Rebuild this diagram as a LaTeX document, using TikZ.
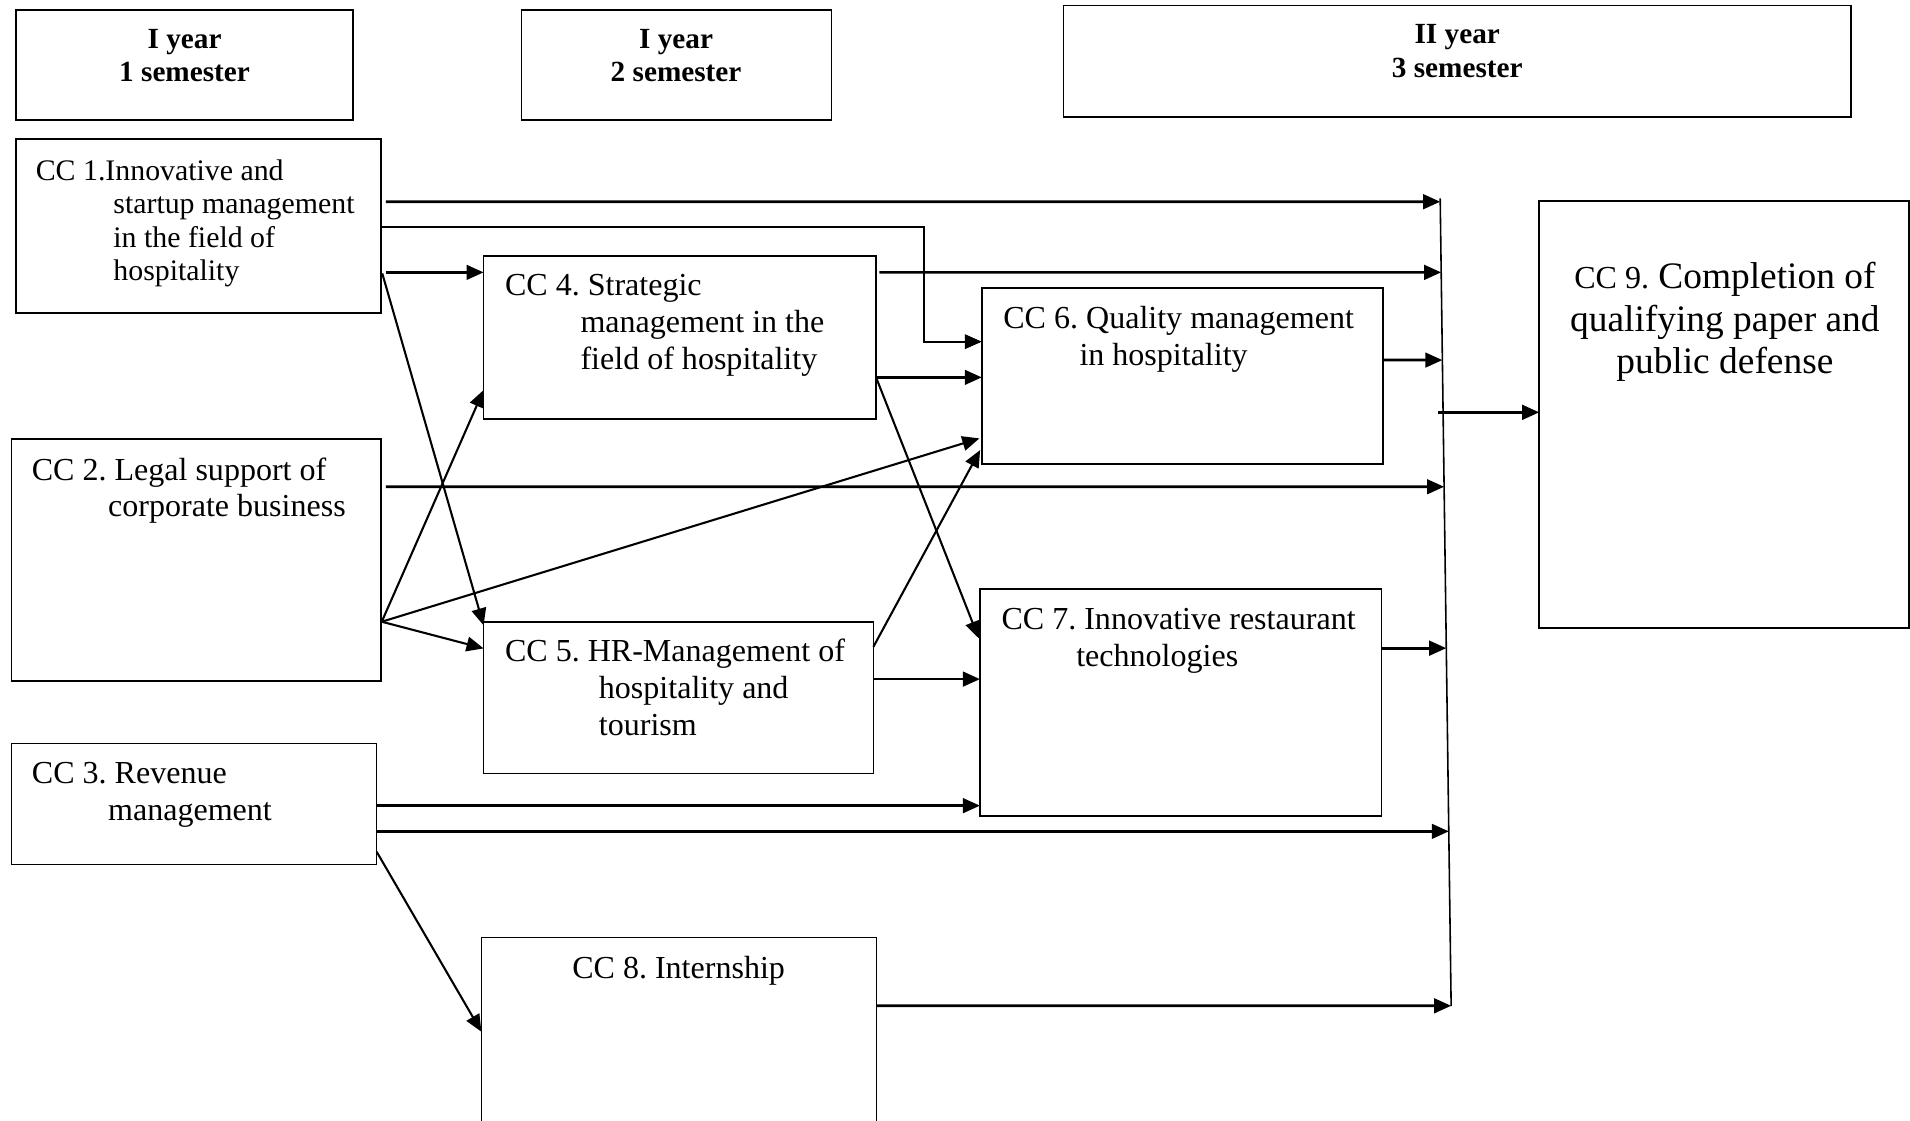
\documentclass[tikz,border=0pt]{standalone}
\usepackage{fontspec}
\setmainfont{Liberation Serif}
\frenchspacing
\usetikzlibrary{arrows.meta,calc}
\tikzset{
  box/.style={draw, line width=1.4pt, inner sep=0pt, outer sep=0pt, anchor=north west},
  txt/.style={font=\fontsize{26.3}{30}\selectfont, inner sep=0pt, anchor=base west},
  txtsm/.style={font=\fontsize{24.5}{28}\selectfont, inner sep=0pt, anchor=base west},
  hdr/.style={font=\fontsize{24}{28}\selectfont\bfseries, inner sep=0pt, anchor=base},
  bigtxt/.style={font=\fontsize{30.7}{35}\selectfont, inner sep=0pt, anchor=base},
  arr/.style={-{Triangle[length=14pt,width=12pt]}, line width=2.2pt},
  diag/.style={-{Triangle[length=14pt,width=12pt]}, line width=1.7pt},
  elbow/.style={-{Triangle[length=14pt,width=12pt]}, line width=1.5pt},
  colline/.style={line width=1.3pt}
}
\begin{document}
\begin{tikzpicture}[x=1pt,y=-1pt]
\useasboundingbox (0,0) rectangle (1568,920);
\fill[white] (0,0) rectangle (1568,920);
\clip (0,0) rectangle (1568,920);

% header boxes
\node[box, minimum width=277pt, minimum height=90.5pt] (h1) at (13,8) {};
\node[box, minimum width=254.5pt, minimum height=90.5pt] (h2) at (428,8) {};
\node[box, minimum width=646.7pt, minimum height=91.2pt] (h3) at (873,4.6) {};
\node[hdr] (h1a) at (151.5,40) {I year};
\node[hdr] (h1b) at (151.5,67) {1 semester};
\node[hdr] (h2a) at (555,40) {I year};
\node[hdr] (h2b) at (555,67) {2 semester};
\node[hdr] (h3a) at (1196.3,35.6) {II year};
\node[hdr] (h3b) at (1196.3,63.5) {3 semester};

% course boxes
\node[box, minimum width=300pt, minimum height=142.3pt] (cc1) at (13,114.4) {};
\node[box, minimum width=303.5pt, minimum height=198.6pt] (cc2) at (9.4,360.2) {};
\node[box, minimum width=299.8pt, minimum height=99.3pt] (cc3) at (9.4,610.3) {};
\node[box, minimum width=322.2pt, minimum height=133.5pt] (cc4) at (397,210.2) {};
\node[box, minimum width=320pt, minimum height=124.5pt] (cc5) at (397,510.4) {};
\node[box, minimum width=329.5pt, minimum height=144.3pt] (cc6) at (806,236.7) {};
\node[box, minimum width=329.5pt, minimum height=186.3pt] (cc7) at (804.5,483.6) {};
\node[box, minimum width=324.4pt, minimum height=220pt] (cc8) at (395.2,769.6) {};
\node[box, minimum width=303.7pt, minimum height=350.3pt] (cc9) at (1263.6,165) {};

% texts
\node[txtsm] (t1a) at (29.2,148) {CC 1.Innovative and};
\node[txtsm] (t1b) at (92.9,175.5) {startup management};
\node[txtsm] (t1c) at (92.9,203) {in the field of};
\node[txtsm] (t1d) at (92.9,230) {hospitality};

\node[txt] (t2a) at (25.9,394.6) {CC 2. Legal support of};
\node[txt] (t2b) at (88.6,424.2) {corporate business};

\node[txt] (t3a) at (26,643) {CC 3. Revenue};
\node[txt] (t3b) at (88.6,673.8) {management};

\node[txt] (t4a) at (414.4,242.7) {CC 4. Strategic};
\node[txt] (t4b) at (476.4,273) {management in the};
\node[txt] (t4c) at (476.4,303) {field of hospitality};

\node[txt] (t5a) at (414.4,543.2) {CC 5. HR-Management of};
\node[txt] (t5b) at (491.5,573.3) {hospitality and};
\node[txt] (t5c) at (491.5,603.4) {tourism};

\node[txt] (t6a) at (823.5,269.6) {CC 6. Quality management};
\node[txt] (t6b) at (886,299.7) {in hospitality};

\node[txt] (t7a) at (822,517) {CC 7. Innovative restaurant};
\node[txt] (t7b) at (883.4,546.8) {technologies};

\node[txt] (t8a) at (469.6,803.2) {CC 8. Internship};

\node[bigtxt] (t9a) at (1416,236.7) {{\fontsize{26.3}{30}\selectfont CC 9.} Completion of};
\node[bigtxt] (t9b) at (1416,272.3) {qualifying paper and};
\node[bigtxt] (t9c) at (1416,306.5) {public defense};

% collector line
\coordinate (colT) at (1182.3,162.8);
\coordinate (colB) at (1191.3,826);
\draw[colline] (colT) -- (colB);
\coordinate (k1) at (1182.3,165.6);
\coordinate (k2) at (1183.1,223.6);
\coordinate (k3) at (1184.1,295.6);
\coordinate (k4) at (1184.7,338.5);
\coordinate (k5) at (1185.5,399.6);
\coordinate (k6) at (1187.3,532.1);
\coordinate (k7) at (1189.4,682.5);
\coordinate (k8) at (1191.3,825.7);

% connectors from CC1
\draw[arr] ($(cc1.north east)+(3.7,51.2)$) -- (k1);
\draw[elbow] ($(cc1.north east)+(0,72.2)$) -| ($(cc6.north west)+(-47.5,43.8)$) -- ($(cc6.north west)+(0,43.8)$);
\draw[arr] ($(cc1.north east)+(3.7,109.2)$) -- ($(cc4.north west)+(0,13.4)$);
\draw[diag] ($(cc1.north east)+(0.8,110)$) -- ($(cc5.north west)+(0,3)$);

% from CC4
\draw[arr] ($(cc4.north east)+(2.8,13.4)$) -- (k2);
\draw[arr] ($(cc4.north east)+(0,99.6)$) -- ($(cc6.north west)+(0,73.1)$);
\draw[diag] ($(cc4.north east)+(0,99.6)$) -- ($(cc7.north west)+(-1,40.4)$);

% from CC6
\draw[arr] ($(cc6.north east)+(0,58.9)$) -- (k3);

% collector to CC9
\draw[arr] ($(k4)+(-4,0)$) -- (cc9.west |- k4);

% from CC2
\draw[arr] ($(cc2.north east)+(3.8,39.4)$) -- (k5);
\draw[diag] ($(cc2.north east)+(0.5,150.2)$) -- ($(cc4.north west)+(0,110)$);
\draw[diag] ($(cc2.north east)+(0.5,150.2)$) -- ($(cc6.north west)+(-2,123.2)$);
\draw[diag] ($(cc2.north east)+(0.5,150.2)$) -- ($(cc5.north west)+(0,21.9)$);

% from CC5
\draw[diag] ($(cc5.north east)+(0,20.6)$) -- ($(cc6.north west)+(-1.4,132.8)$);
\draw[arr] ($(cc5.north east)+(0,47.1)$) -- ($(cc7.north west)+(0,73.9)$);

% from CC7
\draw[arr] ($(cc7.north east)+(0,48.5)$) -- (k6);

% from CC3
\draw[arr] ($(cc3.north east)+(0,51.1)$) -- ($(cc7.north west)+(0,177.8)$);
\draw[arr] ($(cc3.north east)+(0,72.2)$) -- (k7);
\draw[diag] ($(cc3.north east)+(0,88.9)$) -- ($(cc8.north west)+(0,77.4)$);

% from CC8
\draw[arr] ($(cc8.north east)+(0,56.1)$) -- (k8);
\end{tikzpicture}
\end{document}
